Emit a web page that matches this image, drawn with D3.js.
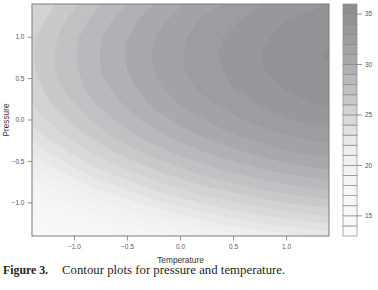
<!DOCTYPE html>
<html>
<head>
<meta charset="utf-8">
<script src="https://cdn.jsdelivr.net/npm/d3@7"></script>
<style>
  body { margin: 0; background: #fff; }
  svg { display: block; }
  .tick-label { font-family: "Liberation Sans", Arial, sans-serif; font-size: 6.5px; fill: #555; }
  .axis-title { font-family: "Liberation Sans", Arial, sans-serif; font-size: 8.3px; fill: #333; }
  .caption { font-family: "Liberation Serif", "Times New Roman", serif; font-size: 12.8px; fill: #231f20; }
</style>
</head>
<body>
<svg id="chart" width="378" height="290"></svg>
<script>
// grid positions (coded units)
const temperature = [-1.4, -1.2, -1.0, -0.8, -0.6, -0.4, -0.2, 0.0, 0.2, 0.4, 0.6, 0.8, 1.0, 1.2, 1.4];
const pressure = [-1.4, -1.2, -1.0, -0.8, -0.6, -0.4, -0.2, 0.0, 0.2, 0.4, 0.6, 0.8, 1.0, 1.2, 1.4];

// response, one row per pressure value (bottom to top)
const response = [
  [13.1, 14.2, 15.2, 16.1, 16.9, 17.7, 18.5, 19.2, 19.8, 20.4, 20.9, 21.3, 21.7, 22.0, 22.3],
  [15.4, 16.4, 17.4, 18.3, 19.2, 20.0, 20.7, 21.4, 22.0, 22.6, 23.1, 23.6, 23.9, 24.3, 24.5],
  [17.4, 18.4, 19.4, 20.4, 21.2, 22.0, 22.8, 23.4, 24.1, 24.6, 25.1, 25.6, 26.0, 26.3, 26.6],
  [19.2, 20.3, 21.2, 22.2, 23.0, 23.8, 24.6, 25.3, 25.9, 26.4, 26.9, 27.4, 27.8, 28.1, 28.4],
  [20.8, 21.8, 22.8, 23.8, 24.6, 25.4, 26.2, 26.8, 27.5, 28.0, 28.5, 29.0, 29.4, 29.7, 30.0],
  [22.2, 23.2, 24.2, 25.1, 26.0, 26.8, 27.5, 28.2, 28.8, 29.4, 29.9, 30.4, 30.8, 31.1, 31.3],
  [23.3, 24.4, 25.4, 26.3, 27.2, 28.0, 28.7, 29.4, 30.0, 30.6, 31.1, 31.5, 31.9, 32.2, 32.5],
  [24.3, 25.3, 26.3, 27.2, 28.1, 28.9, 29.6, 30.3, 30.9, 31.5, 32.0, 32.5, 32.9, 33.2, 33.4],
  [25.0, 26.1, 27.0, 28.0, 28.8, 29.6, 30.4, 31.1, 31.7, 32.2, 32.7, 33.2, 33.6, 33.9, 34.2],
  [25.5, 26.6, 27.6, 28.5, 29.3, 30.1, 30.9, 31.6, 32.2, 32.8, 33.3, 33.7, 34.1, 34.4, 34.7],
  [25.8, 26.9, 27.8, 28.8, 29.6, 30.4, 31.2, 31.9, 32.5, 33.0, 33.5, 34.0, 34.4, 34.7, 34.9],
  [25.9, 26.9, 27.9, 28.8, 29.7, 30.5, 31.3, 31.9, 32.6, 33.1, 33.6, 34.1, 34.5, 34.8, 35.1],
  [25.8, 26.8, 27.8, 28.7, 29.6, 30.4, 31.1, 31.8, 32.4, 33.0, 33.5, 33.9, 34.3, 34.6, 34.9],
  [25.4, 26.4, 27.4, 28.3, 29.2, 30.0, 30.8, 31.4, 32.1, 32.6, 33.1, 33.6, 34.0, 34.3, 34.6],
  [24.8, 25.9, 26.8, 27.8, 28.6, 29.4, 30.2, 30.9, 31.5, 32.0, 32.5, 33.0, 33.4, 33.7, 34.0]
];

const levels = [13, 14, 15, 16, 17, 18, 19, 20, 21, 22, 23, 24, 25, 26, 27, 28, 29, 30, 31, 32, 33, 34, 35, 36];
const xTicks = [-1.0, -0.5, 0.0, 0.5, 1.0];
const yTicks = [-1.0, -0.5, 0.0, 0.5, 1.0];
const keyTicks = [15, 20, 25, 30, 35];

// gray ramp, one colour per band (13-14 ... 35-36)
const bandGray = ["#fafafa", "#f9f9f9", "#f8f8f8", "#f7f7f7", "#f6f6f6", "#f5f5f5", "#f3f3f4", "#f1f1f2",
  "#eeeeef", "#e8e8e9", "#e1e1e2", "#d9d9db", "#d1d2d4", "#c8c9cb", "#c0c1c3", "#b8b9bc",
  "#b0b1b4", "#a8a9ac", "#a2a3a6", "#9c9da1", "#97989c", "#929397", "#8d8e92"];

const svg = d3.select("#chart");
const plot = { left: 32, right: 329, top: 4, bottom: 236 };
const key = { left: 343, right: 357, top: 4, bottom: 236 };

const x = d3.scaleLinear().domain([-1.4, 1.4]).range([plot.left, plot.right]);
const y = d3.scaleLinear().domain([-1.4, 1.4]).range([plot.bottom, plot.top]);
const color = d3.scaleOrdinal().domain(levels.slice(0, -1)).range(bandGray);

// contours on the grid
const nx = temperature.length, ny = pressure.length;
const values = response.flat();
const contours = d3.contours().size([nx, ny]).thresholds(levels.slice(0, -1))(values);

const stepX = temperature[1] - temperature[0];
const stepY = pressure[1] - pressure[0];
const proj = d3.geoTransform({
  point: function(cx, cy) {
    this.stream.point(x(temperature[0] + (cx - 0.5) * stepX), y(pressure[0] + (cy - 0.5) * stepY));
  }
});
const path = d3.geoPath(proj);

svg.append("clipPath").attr("id", "clip")
  .append("rect")
  .attr("x", plot.left).attr("y", plot.top)
  .attr("width", plot.right - plot.left).attr("height", plot.bottom - plot.top);

svg.append("g").attr("clip-path", "url(#clip)")
  .selectAll("path")
  .data(contours)
  .join("path")
  .attr("d", path)
  .attr("fill", d => color(d.value))
  .attr("stroke", d => color(d.value))
  .attr("stroke-width", 0.3);

// plot box
svg.append("rect")
  .attr("x", plot.left).attr("y", plot.top)
  .attr("width", plot.right - plot.left).attr("height", plot.bottom - plot.top)
  .attr("fill", "none").attr("stroke", "#7a7a7a").attr("stroke-width", 1);

// x axis
const gx = svg.append("g");
gx.selectAll("line").data(xTicks).join("line")
  .attr("x1", d => x(d)).attr("x2", d => x(d))
  .attr("y1", plot.bottom).attr("y2", plot.bottom + 4.5)
  .attr("stroke", "#7a7a7a").attr("stroke-width", 0.8);
gx.selectAll("text").data(xTicks).join("text")
  .attr("class", "tick-label")
  .attr("x", d => x(d)).attr("y", plot.bottom + 12.5)
  .attr("text-anchor", "middle")
  .text(d => d3.format(".1f")(d));

// y axis
const gy = svg.append("g");
gy.selectAll("line").data(yTicks).join("line")
  .attr("x1", plot.left - 4.5).attr("x2", plot.left)
  .attr("y1", d => y(d)).attr("y2", d => y(d))
  .attr("stroke", "#7a7a7a").attr("stroke-width", 0.8);
gy.selectAll("text").data(yTicks).join("text")
  .attr("class", "tick-label")
  .attr("x", plot.left - 7.5).attr("y", d => y(d))
  .attr("dy", "0.35em")
  .attr("text-anchor", "end")
  .text(d => d3.format(".1f")(d));

svg.append("text").attr("class", "axis-title")
  .attr("x", (plot.left + plot.right) / 2).attr("y", 262.5)
  .attr("text-anchor", "middle")
  .text("Temperature");

svg.append("text").attr("class", "axis-title")
  .attr("transform", "translate(9," + y(0) + ") rotate(-90)")
  .attr("text-anchor", "middle")
  .text("Pressure");

// colour key
const k = d3.scaleLinear().domain([13, 36]).range([key.bottom, key.top]);
svg.append("g").selectAll("rect")
  .data(levels.slice(0, -1))
  .join("rect")
  .attr("x", key.left).attr("width", key.right - key.left)
  .attr("y", d => k(d + 1)).attr("height", d => k(d) - k(d + 1))
  .attr("fill", d => color(d))
  .attr("stroke", "#8a8a8a").attr("stroke-width", 0.7);

const gk = svg.append("g");
gk.selectAll("line").data(keyTicks).join("line")
  .attr("x1", key.right).attr("x2", key.right + 5)
  .attr("y1", d => k(d)).attr("y2", d => k(d))
  .attr("stroke", "#7a7a7a").attr("stroke-width", 0.8);
gk.selectAll("text").data(keyTicks).join("text")
  .attr("class", "tick-label")
  .attr("x", key.right + 8).attr("y", d => k(d))
  .attr("dy", "0.35em")
  .text(d => d);

// caption
const cap = svg.append("text").attr("class", "caption").attr("x", 3).attr("y", 274);
cap.append("tspan").attr("font-weight", "bold").attr("font-size", "11.8px").text("Figure 3.");
cap.append("tspan").attr("dx", 14).text("Contour plots for pressure and temperature.");
</script>
</body>
</html>
